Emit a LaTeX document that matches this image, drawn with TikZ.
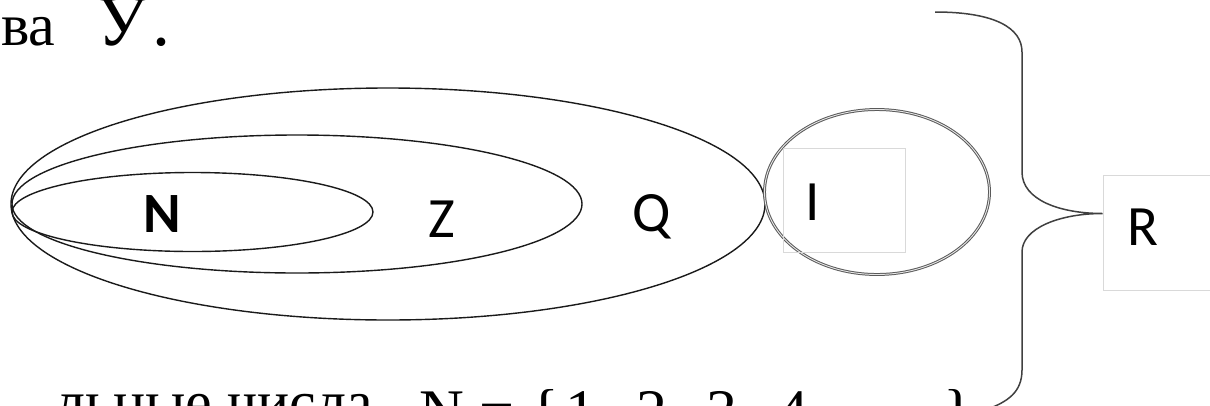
\documentclass[tikz,border=0pt]{standalone}
\usepackage{fontspec}
\setmainfont{Liberation Serif}
\newfontfamily\numsans{Carlito}
\usepackage{xcolor}
\definecolor{numline}{HTML}{1A1A1A}
\definecolor{numring}{HTML}{5A5A5A}
\definecolor{numframe}{HTML}{D9D9D9}
\definecolor{numbrace}{HTML}{404040}
\usepackage{tikz}
\usetikzlibrary{shapes.geometric,calc}
\tikzset{
  numset/.style={draw=numline,ellipse,line width=1.4pt,inner sep=0pt},
  numring/.style={draw=numring,ellipse,line width=1pt,double=white!85!numring,double distance=0.9pt,inner sep=0pt},
  numlabel/.style={font=\numsans\fontsize{57}{60}\selectfont,inner sep=0pt,anchor=base},
  numframe/.style={draw=numframe,line width=0.9pt,inner sep=0pt},
  numtext/.style={font=\fontsize{60}{66}\selectfont,inner sep=0pt},
  numbrace/.style={draw=numbrace,line width=1.5pt},
}

\begin{document}
\begin{tikzpicture}[x=1pt,y=-1pt]
\useasboundingbox (0,0) rectangle (1210,405);
\clip (0,0) rectangle (1210,405);
\node[numtext,anchor=base west] (head) at (1,45) {ва\hspace{41pt}{\fontsize{72}{76}\selectfont У\hspace{5pt}.}};
% nested sets
\node[numset,minimum width=754pt,minimum height=232pt] (setQ) at (388,204) {};
\node[numset,minimum width=570pt,minimum height=138pt] (setZ) at (297,204) {};
\node[numset,minimum width=361pt,minimum height=79pt] (setN) at (192.5,212) {};
\node[numlabel,font=\numsans\bfseries\fontsize{57}{60}\selectfont] (labN) at (162,232) {N};
\node[numlabel] (labZ) at (442,237) {Z};
\node[numlabel] (labQ) at (652,231) {Q};
% irrational numbers
\node[numring,minimum width=225pt,minimum height=165pt] (setI) at (877,192) {};
\node[numframe,minimum width=122pt,minimum height=104pt] (boxI) at (844,200) {};
\node[numlabel] (labI) at (813,220) {I};
% real numbers
\node[numframe,minimum width=112pt,minimum height=115pt] (boxR) at (1159,232.5) {};
\node[numlabel] (labR) at (1143,245) {R};
\coordinate (tip) at ([yshift=19pt]boxR.west);
\draw[numbrace] (935,12) .. controls (995,12) and (1022,28) .. (1022,52) -- (1022,172)
  .. controls (1022,200) and (1060,213.5) .. (tip)
  .. controls (1060,213.5) and (1022,228) .. (1022,252) -- (1022,370)
  .. controls (1022,392) and (1008,402) .. (985,410);
% caption
\node[numtext,anchor=base east] (foot) at (373,422) {льные числа};
\node[numtext,anchor=base west,font=\fontsize{62}{70}\selectfont] (setNdef) at (419,432)
  {N = \{\hspace{6pt}1,\hspace{24pt}2,\hspace{24pt}3,\hspace{24pt}4,\hspace{24pt}…\hspace{34pt}\}};
\end{tikzpicture}
\end{document}
